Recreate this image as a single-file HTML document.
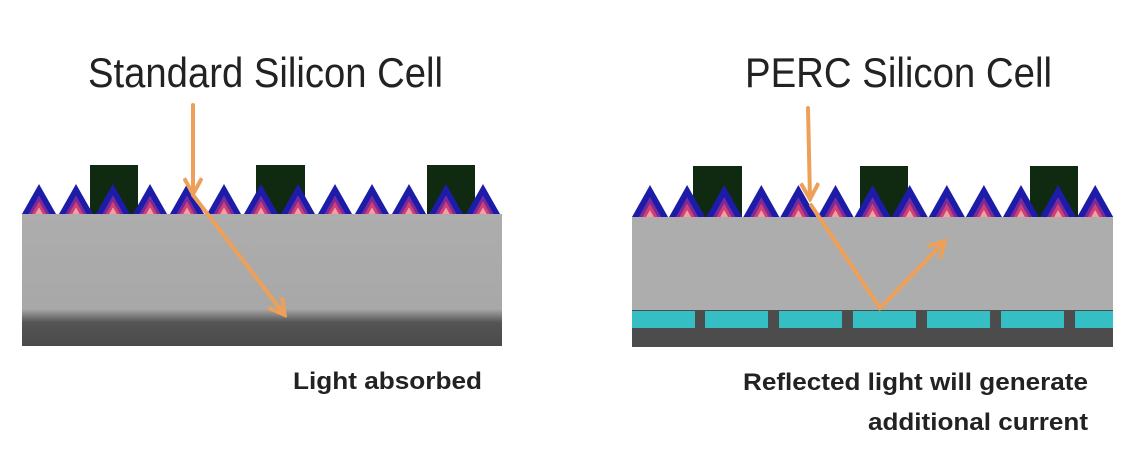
<!DOCTYPE html>
<html><head><meta charset="utf-8"><style>
html,body{margin:0;padding:0;background:#fff;}
svg{display:block}
text{font-family:"Liberation Sans",sans-serif;}
</style></head><body>
<svg width="1143" height="456" viewBox="0 0 1143 456">
<defs>
<linearGradient id="gl" x1="0" y1="0" x2="0" y2="1">
<stop offset="0" stop-color="#adadad"/><stop offset="0.72" stop-color="#a8a8a8"/><stop offset="0.82" stop-color="#555"/><stop offset="1" stop-color="#4a4a4a"/>
</linearGradient>
<marker id="ah" markerWidth="5" markerHeight="5" refX="4" refY="2.5" orient="auto" markerUnits="strokeWidth">
<path d="M0.3,0.3 L4.3,2.5 L0.3,4.7" fill="none" stroke="#eea058" stroke-width="1"/>
</marker>
</defs>

<text x="88" y="87" font-size="42" textLength="355" lengthAdjust="spacingAndGlyphs" fill="#222">Standard Silicon Cell</text>
<text x="745" y="87" font-size="42" textLength="307" lengthAdjust="spacingAndGlyphs" fill="#222">PERC Silicon Cell</text>

<g>
<rect x="22" y="214" width="480" height="132" fill="url(#gl)"/>
<rect x="90" y="165" width="48" height="49" fill="#0f2a10"/>
<rect x="256" y="165" width="49" height="49" fill="#0f2a10"/>
<rect x="427" y="165" width="48" height="49" fill="#0f2a10"/>
<g id="lt2"></g>
</g>

<g>
<rect x="632" y="217" width="481" height="93" fill="#adadad"/>
<rect x="632" y="310" width="481" height="37" fill="#4c4c4c"/>
<g id="cyan"></g>
<rect x="693" y="166" width="49" height="51" fill="#0f2a10"/>
<rect x="860" y="166" width="48" height="51" fill="#0f2a10"/>
<rect x="1030" y="166" width="48" height="51" fill="#0f2a10"/>
<g id="rt2"></g>
</g>

<g fill="none" stroke="#eea058" stroke-width="4" stroke-linecap="round">
<path d="M193,105 L193,193" marker-end="url(#ah)"/>
<path d="M193,195 L284,314" marker-end="url(#ah)"/>
<path d="M808,108 L810,198" marker-end="url(#ah)"/>
<path d="M811,205 L880,308 L944,242" marker-end="url(#ah)"/>
</g>

<text x="293" y="389" font-size="24" font-weight="bold" textLength="189" lengthAdjust="spacingAndGlyphs" fill="#222">Light absorbed</text>
<text x="743" y="390" font-size="24" font-weight="bold" textLength="345" lengthAdjust="spacingAndGlyphs" fill="#222">Reflected light will generate</text>
<text x="868" y="430" font-size="24" font-weight="bold" textLength="220" lengthAdjust="spacingAndGlyphs" fill="#222">additional current</text>
</svg>
<script>
var NS='http://www.w3.org/2000/svg';
function tris(g,x0,base,top,n,step,w){
  for(var i=0;i<n;i++){
    var x=x0+i*step, h=base-top;
    var layers=[['#1c1ca8',1],['#7a2a9a',0.62],['#d04070',0.42],['#f0a0a8',0.22]];
    layers.forEach(function(l){
      var p=document.createElementNS(NS,'polygon');
      var s=l[1], hw=w/2*s, hh=h*s;
      p.setAttribute('points',(x+w/2-hw)+','+base+' '+(x+w/2)+','+(base-hh)+' '+(x+w/2+hw)+','+base);
      p.setAttribute('fill',l[0]);
      
      
      g.appendChild(p);
    });
  }
}
tris(document.getElementById('lt2'),22,214,184,13,37,34);
tris(document.getElementById('rt2'),632,217,185,13,37.1,36);
var cg=document.getElementById('cyan');
[632,705,779,853,927,1001,1075].forEach(function(x){
  var r=document.createElementNS(NS,'rect');
  r.setAttribute('x',x);r.setAttribute('y',311);
  r.setAttribute('width',Math.min(63,1113-x));r.setAttribute('height',17);
  r.setAttribute('fill','#35bfc4');
  
  
  cg.appendChild(r);
});
</script>
</body></html>
